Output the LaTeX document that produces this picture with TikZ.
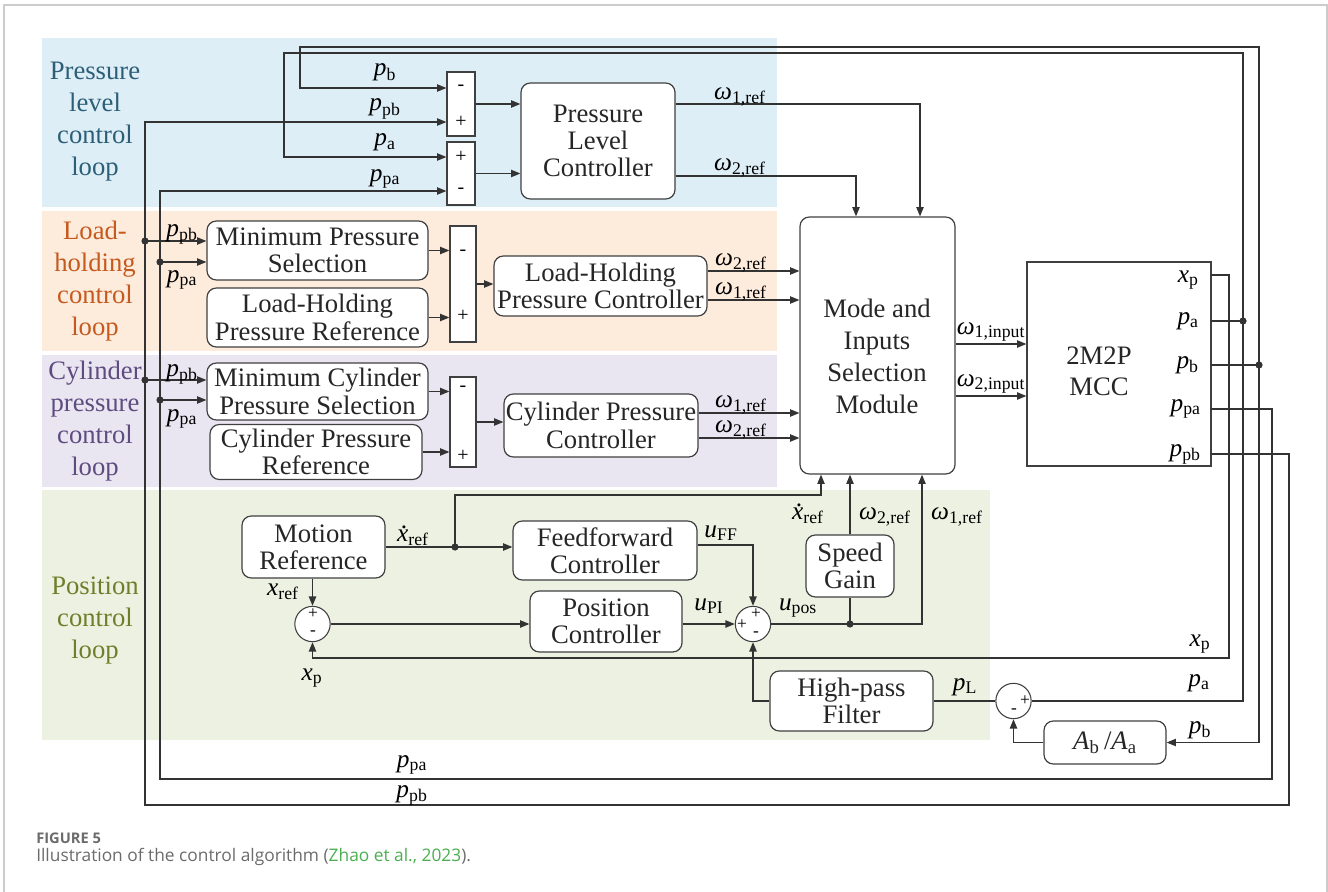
\documentclass[tikz,border=0pt]{standalone}
\usepackage{fontspec}
\setmainfont{Liberation Serif}
\newfontfamily\capfont{Open Sans}
\usetikzlibrary{arrows.meta}
\usetikzlibrary{positioning}
\usetikzlibrary{calc}

\definecolor{bgblue}{HTML}{DDEEF7}
\definecolor{bgorange}{HTML}{FDEBDC}
\definecolor{bgpurple}{HTML}{EAE6F1}
\definecolor{bggreen}{HTML}{EDF1E1}
\definecolor{txblue}{HTML}{2C5F77}
\definecolor{txorange}{HTML}{C65A1E}
\definecolor{txpurple}{HTML}{5E4B80}
\definecolor{txgreen}{HTML}{6E7F2B}
\definecolor{wirecol}{HTML}{333333}
\definecolor{framecol}{HTML}{CCCCCC}
\definecolor{capgray}{HTML}{6B6B6B}
\definecolor{capgreen}{HTML}{4BAE4F}

\newcommand\boxfont{\fontsize{20}{20.5}\selectfont}
\newcommand\labfont{\fontsize{19}{20}\selectfont}
\newcommand\loopfont{\fontsize{20}{24}\selectfont}
\newcommand\sgnfont{\fontsize{15}{15}\selectfont}
\newcommand\sig[2]{\textit{#1}\textsubscript{#2}}
\newcommand\om[1]{\textit{ω}\textsubscript{#1}}
\newcommand\xdot{\textit{x}\kern-0.3em\raisebox{0.5em}{.}\kern0.05em}

\tikzset{wh/.style 2 args={minimum width=#1*0.75pt, minimum height=#2*0.75pt}}

\begin{document}
\begin{tikzpicture}[x=0.75pt, y=-0.75pt]

\tikzstyle{block}=[draw=black!75, line width=0.9pt, rounded corners=7pt,
	fill=white, align=center, inner sep=0pt, font=\boxfont, text=black!85]
\tikzstyle{plain}=[draw=black!75, line width=0.9pt, fill=white, inner sep=0pt]
\tikzstyle{summer}=[draw=black!75, line width=0.8pt, circle, fill=white,
	minimum size=26.5pt, inner sep=0pt]
\tikzstyle{wire}=[draw=wirecol, line width=0.9pt]
\tikzstyle{flow}=[wire, -{Triangle[length=7pt,width=5.5pt]}]
\tikzstyle{lab}=[font=\labfont, inner sep=0pt, anchor=base]
\tikzstyle{sgn}=[font=\sgnfont, inner sep=0pt]
\tikzstyle{smallsgn}=[font=\fontsize{13}{13}\selectfont, inner sep=0pt]
\tikzstyle{loopname}=[align=center, font=\loopfont]
\tikzstyle{dot}=[fill=wirecol]

\useasboundingbox (0,0) rectangle (1328,892);

% frame
\draw[framecol, line width=0.8pt] (4,892) -- (4,5) -- (1327,5) -- (1327,892);

% loop backgrounds
\fill[bgblue] (42,38) rectangle (777,207);
\fill[bgorange] (42,211) rectangle (777,351);
\fill[bgpurple] (42,355) rectangle (777,487);
\fill[bggreen] (42,490) rectangle (990,740);

% loop names
\node[loopname, text=txblue] (namepl) at (95,122) {Pressure\\level\\control\\loop};
\node[loopname, text=txorange] (namelh) at (95,281) {Load-\\holding\\control\\loop};
\node[loopname, text=txpurple] (namecy) at (95,421) {Cylinder\\pressure\\control\\loop};
\node[loopname, text=txgreen] (namepos) at (95,621) {Position\\control\\loop};

% blocks
\node[block, wh={154}{116}] (plc) at (598,141) {Pressure\\Level\\Controller};
\node[plain, wh={28}{64}] (sumPL1) at (461,104) {};
\node[plain, wh={28}{63}] (sumPL2) at (461,173.5) {};
\node[block, wh={155}{257}] (mode) at (877.5,345.5) {};
\node[font=\fontsize{20}{24}\selectfont, align=center, text=black!85] (modetxt) at (877,356)
	{Mode and\\Inputs\\Selection\\Module};
\node[plain, wh={184}{204}] (mcc) at (1119,364) {};
\node[font=\fontsize{20}{23}\selectfont, align=center, text=black!85] (mcctxt) at (1099,371)
	{2M2P\\MCC};

\node[block, wh={221}{59}] (mps) at (317.5,250.5) {Minimum Pressure\\Selection};
\node[block, wh={221}{59}] (lhpr) at (317.5,317.5) {Load-Holding\\Pressure Reference};
\node[plain, wh={26}{116}] (sumLH) at (463,284) {};
\node[block, wh={213}{60}] (lhpc) at (600.5,286) {Load-Holding\\Pressure Controller};

\node[block, wh={221}{57}] (mcps) at (317.5,391.5) {Minimum Cylinder\\Pressure Selection};
\node[block, wh={212}{55}] (cpr) at (316,452) {Cylinder Pressure\\Reference};
\node[plain, wh={26}{90}] (sumCY) at (463,422) {};
\node[block, wh={194}{63}] (cpc) at (601,425.5) {Cylinder Pressure\\Controller};

\node[block, wh={143}{62}] (mr) at (313.5,547) {Motion\\Reference};
\node[block, wh={184}{59}] (ffc) at (605,550.5) {Feedforward\\Controller};
\node[block, wh={152}{61}] (pc) at (606,621.5) {Position\\Controller};
\node[block, wh={88}{62}] (sg) at (850,566) {Speed\\Gain};
\node[block, wh={163}{60}] (hpf) at (851.5,701) {High-pass\\Filter};
\node[block, wh={122}{43}] (ratio) at (1105,742.5) {\sig{A}{b}\,/\sig{A}{a}};
\node[summer] (circ1) at (312.5,624) {};
\node[summer] (circ2) at (753,624) {};
\node[summer] (circ3) at (1013.5,701) {};

% signs
\node[sgn] (s1) at (461,88) {-};
\node[sgn] (s2) at (461,122) {+};
\node[sgn] (s3) at (461,157) {+};
\node[sgn] (s4) at (461,191) {-};
\node[sgn] (s5) at (463,253) {-};
\node[sgn] (s6) at (463,316) {+};
\node[sgn] (s7) at (463,389) {-};
\node[sgn] (s8) at (463,456) {+};
\node[smallsgn] (s9) at (313,614) {+};
\node[smallsgn] (s10) at (313,633) {-};
\node[smallsgn] (s11) at (756,614) {+};
\node[smallsgn] (s12) at (742,625) {+};
\node[smallsgn] (s13) at (756,634) {-};
\node[smallsgn] (s14) at (1025,701) {+};
\node[smallsgn] (s15) at (1014,711) {-};

% ports and junctions
\coordinate (oxp) at (1211,275);
\coordinate (opa) at (1211,321);
\coordinate (opb) at (1211,365);
\coordinate (oppa) at (1211,409);
\coordinate (oppb) at (1211,454);
\coordinate (ja) at (1243,321);
\coordinate (jb) at (1259,365);
\coordinate (jpb1) at (145,241);
\coordinate (jpa1) at (160,262);
\coordinate (jpb2) at (145,380);
\coordinate (jpa2) at (160,400);
\coordinate (jx) at (455,547);
\coordinate (ju) at (850,624);

% MCC outputs
\node[lab, anchor=base east] (lxp) at (1199,282) {\sig{x}{p}};
\node[lab, anchor=base east] (lpa) at (1199,324) {\sig{p}{a}};
\node[lab, anchor=base east] (lpb) at (1199,368) {\sig{p}{b}};
\node[lab, anchor=base east] (lppa) at (1201,411) {\sig{p}{pa}};
\node[lab, anchor=base east] (lppb) at (1201,456) {\sig{p}{pb}};

% pressure level loop
\draw[flow] (opb) -- (jb) |- (300,47) |- (sumPL1.west |- 0,88);
\draw[flow] (opa) -- (ja) |- (284,53) |- (sumPL2.west |- 0,157);
\draw[flow] (oppb) -| (1289,805) -| (145,122) -- (sumPL1.west |- 0,122);
\draw[flow] (oppa) -| (1272,779) -| (160,191) -- (sumPL2.west |- 0,191);
\draw[flow] (sumPL1.east) -- (plc.west |- sumPL1.east);
\draw[flow] (sumPL2.east) -- (plc.west |- sumPL2.east);
\draw[flow] (plc.east |- 0,104) -| (mode.north -| 920,0);
\draw[flow] (plc.east |- 0,176) -| (mode.north -| 856,0);
\node[lab] (tpb) at (385,76) {\sig{p}{b}};
\node[lab] (tppb) at (385,111) {\sig{p}{pb}};
\node[lab] (tpa) at (385,146) {\sig{p}{a}};
\node[lab] (tppa) at (385,181) {\sig{p}{pa}};
\node[lab] (tw1) at (740,99) {\om{1,ref}};
\node[lab] (tw2) at (740,170) {\om{2,ref}};

% load-holding loop
\draw[flow] (jpb1) -- (mps.west |- jpb1);
\draw[flow] (jpa1) -- (mps.west |- jpa1);
\draw[flow] (mps.east) -- (sumLH.west |- mps.east);
\draw[flow] (lhpr.east) -- (sumLH.west |- lhpr.east);
\draw[flow] (sumLH.east) -- (lhpc.west |- sumLH.east);
\draw[flow] (lhpc.east |- 0,271) -- (mode.west |- 0,271);
\draw[flow] (lhpc.east |- 0,300) -- (mode.west |- 0,300);
\node[lab] (lhpb) at (182,236) {\sig{p}{pb}};
\node[lab] (lhpa) at (182,282) {\sig{p}{pa}};
\node[lab] (lhw2) at (741,265) {\om{2,ref}};
\node[lab] (lhw1) at (741,294) {\om{1,ref}};

% cylinder pressure loop
\draw[flow] (jpb2) -- (mcps.west |- jpb2);
\draw[flow] (jpa2) -- (mcps.west |- jpa2);
\draw[flow] (mcps.east) -- (sumCY.west |- mcps.east);
\draw[flow] (cpr.east) -- (sumCY.west |- cpr.east);
\draw[flow] (sumCY.east) -- (cpc.west |- sumCY.east);
\draw[flow] (cpc.east |- 0,413) -- (mode.west |- 0,413);
\draw[flow] (cpc.east |- 0,438) -- (mode.west |- 0,438);
\node[lab] (cypb) at (182,376) {\sig{p}{pb}};
\node[lab] (cypa) at (182,421) {\sig{p}{pa}};
\node[lab] (cyw1) at (741,407) {\om{1,ref}};
\node[lab] (cyw2) at (741,432) {\om{2,ref}};

% junction dots
\foreach \j in {ja,jb,jpb1,jpa1,jpb2,jpa2,jx,ju}
	\fill[dot] (\j) circle[radius=2.7pt];

% mode to MCC
\draw[flow] (mode.east |- 0,344) -- (mcc.west |- 0,344);
\draw[flow] (mode.east |- 0,396) -- (mcc.west |- 0,396);
\node[lab] (tin1) at (991,334) {\om{1,input}};
\node[lab] (tin2) at (991,386) {\om{2,input}};

% position loop
\draw[wire] (mr.east |- jx) -- (jx);
\draw[flow] (jx) -- (ffc.west |- jx);
\draw[flow] (jx) |- (821,495) -- (mode.south -| 821,0);
\draw[flow] (circ1 |- mr.south) -- (circ1.north);
\draw[flow] (circ1.east) -- (pc.west |- circ1.east);
\draw[flow] (pc.east |- circ2) -- (circ2.west);
\draw[flow] (ffc.east |- 0,545) -| (circ2.north);
\draw[flow] (circ2.east) -| (mode.south -| 922,0);
\draw[wire] (ju) -- (sg.south);
\draw[flow] (sg.north) -- (mode.south -| sg.north);
\draw[flow] (oxp) -| (1229,658) -| (circ1.south);
\draw[flow] (hpf.west) -| (circ2.south);
\draw[wire] (hpf.east) -- (circ3.west);
\draw[wire] (ja) |- (circ3.east);
\draw[flow] (jb) |- (ratio.east);
\draw[flow] (ratio.west) -| (circ3.south);
\node[lab] (txr1) at (413,541) {\xdot\textsubscript{ref}};
\node[lab] (txr2) at (808,519) {\xdot\textsubscript{ref}};
\node[lab] (tw2p) at (885,519) {\om{2,ref}};
\node[lab] (tw1p) at (957,519) {\om{1,ref}};
\node[lab] (tuff) at (721,537) {\sig{u}{FF}};
\node[lab] (tupi) at (709,610) {\sig{u}{PI}};
\node[lab] (tupos) at (798,610) {\sig{u}{pos}};
\node[lab] (txref) at (283,595) {\sig{x}{ref}};
\node[lab] (txp1) at (312,680) {\sig{x}{p}};
\node[lab] (txp2) at (1200,646) {\sig{x}{p}};
\node[lab] (tpl) at (965,690) {\sig{p}{L}};
\node[lab] (tpa2) at (1199,686) {\sig{p}{a}};
\node[lab] (tpb2) at (1200,733) {\sig{p}{b}};
\node[lab] (tppa2) at (412,767) {\sig{p}{pa}};
\node[lab] (tppb2) at (412,797) {\sig{p}{pb}};

% caption
\node[anchor=base west, inner sep=0pt, text=capgray,
	font=\capfont\bfseries\fontsize{11}{12}\selectfont] (figno) at (36,843) {FIGURE 5};
\node[anchor=base west, inner sep=0pt, text=capgray,
	font=\capfont\fontsize{13}{14}\selectfont] (figcap) at (36,861)
	{Illustration of the control algorithm (\textcolor{capgreen}{Zhao et al., 2023}).};

\end{tikzpicture}
\end{document}
